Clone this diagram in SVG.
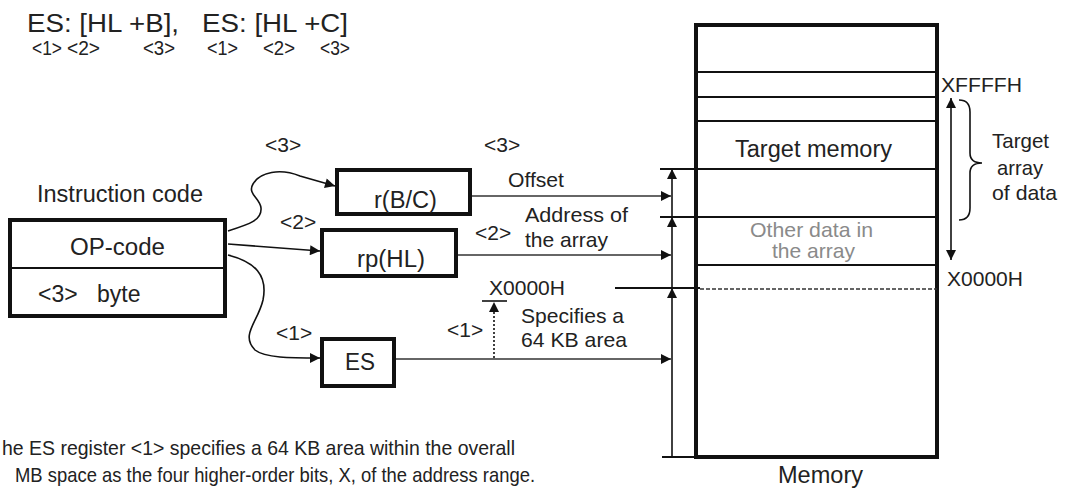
<svg xmlns="http://www.w3.org/2000/svg" width="1065" height="494" viewBox="0 0 1065 494">
<style>
text{font-family:"Liberation Sans",Arial,sans-serif;fill:#222;}
.t{font-size:23px;}
.s{font-size:21px;}
.k{font-size:20px;}
.g{fill:#8a8a8a;font-size:21px;}
.box{fill:#fff;stroke:#111;stroke-width:4;}
.ln{stroke:#111;stroke-width:1.6;fill:none;}
.hl{stroke:#333;stroke-width:1.6;fill:none;}
</style>
<defs>
<marker id="ah" viewBox="0 0 10 10" refX="10" refY="5" markerWidth="11" markerHeight="10" markerUnits="userSpaceOnUse" orient="auto">
<path d="M0,0 L10,5 L0,10 Z" fill="#111"/>
</marker>
<marker id="ahs" viewBox="0 0 10 10" refX="0" refY="5" markerWidth="11" markerHeight="10" markerUnits="userSpaceOnUse" orient="auto">
<path d="M10,0 L0,5 L10,10 Z" fill="#111"/>
</marker>
</defs>
<rect width="1065" height="494" fill="#fff"/>

<g id="title">
<text x="27" y="32" style="font-size:26px" textLength="321" lengthAdjust="spacingAndGlyphs" xml:space="preserve">ES: [HL +B],   ES: [HL +C]</text>
<text class="k" x="32" y="55" textLength="30" lengthAdjust="spacingAndGlyphs">&lt;1&gt;</text>
<text class="k" x="67" y="55" textLength="33" lengthAdjust="spacingAndGlyphs">&lt;2&gt;</text>
<text class="k" x="143" y="55" textLength="32" lengthAdjust="spacingAndGlyphs">&lt;3&gt;</text>
<text class="k" x="207" y="55" textLength="31" lengthAdjust="spacingAndGlyphs">&lt;1&gt;</text>
<text class="k" x="263" y="55" textLength="32" lengthAdjust="spacingAndGlyphs">&lt;2&gt;</text>
<text class="k" x="320" y="55" textLength="30" lengthAdjust="spacingAndGlyphs">&lt;3&gt;</text>
</g>

<g id="instruction-code">
<text class="t" x="37" y="202" textLength="166" lengthAdjust="spacingAndGlyphs">Instruction code</text>
<rect class="box" x="10" y="220" width="215" height="96"/>
<line x1="10" y1="268" x2="225" y2="268" stroke="#111" stroke-width="2"/>
<text class="t" x="70" y="255" textLength="95" lengthAdjust="spacingAndGlyphs">OP-code</text>
<text class="t" y="302"><tspan x="38">&lt;3&gt;</tspan><tspan x="97">byte</tspan></text>
</g>

<g id="reg-bc">
<rect class="box" x="337" y="170" width="133" height="44"/>
<text class="t" x="374" y="208" textLength="63" lengthAdjust="spacingAndGlyphs">r(B/C)</text>
</g>

<g id="reg-hl">
<rect class="box" x="322" y="230" width="134" height="46"/>
<text class="t" x="357" y="267" textLength="68" lengthAdjust="spacingAndGlyphs">rp(HL)</text>
</g>

<g id="reg-es">
<rect class="box" x="322" y="339" width="72" height="47"/>
<text class="t" x="345" y="370" textLength="30" lengthAdjust="spacingAndGlyphs">ES</text>
</g>

<g id="memory">
<rect class="box" x="696" y="25" width="241" height="432"/>
<g stroke="#111" stroke-width="1.8">
<line x1="696" y1="72" x2="937" y2="72"/>
<line x1="696" y1="97" x2="937" y2="97"/>
<line x1="696" y1="121" x2="937" y2="121"/>
<line x1="660" y1="169" x2="937" y2="169"/>
<line x1="660" y1="217" x2="937" y2="217"/>
<line x1="696" y1="265" x2="937" y2="265"/>
<line x1="615" y1="288" x2="700" y2="288"/>
<line x1="662" y1="457" x2="700" y2="457"/>
</g>
<line x1="700" y1="289" x2="937" y2="289" stroke="#333" stroke-width="1.6" stroke-dasharray="4,2"/>
<text class="t" x="735" y="157" textLength="157" lengthAdjust="spacingAndGlyphs">Target memory</text>
<text class="g" x="750" y="237" textLength="123" lengthAdjust="spacingAndGlyphs">Other data in</text>
<text class="g" x="772" y="258" textLength="83" lengthAdjust="spacingAndGlyphs">the array</text>
<text class="s" x="941" y="92" textLength="81" lengthAdjust="spacingAndGlyphs">XFFFFH</text>
<text class="s" x="947" y="286" textLength="76" lengthAdjust="spacingAndGlyphs">X0000H</text>
<text class="t" x="778" y="483" textLength="85" lengthAdjust="spacingAndGlyphs">Memory</text>
</g>

<g id="target-array">
<path class="ln" d="M959,100 Q970,100 970,112 L970,153 Q970,163 982,163 Q970,163 970,173 L970,208 Q970,220 959,220"/>
<text class="s" x="992" y="148" textLength="57" lengthAdjust="spacingAndGlyphs">Target</text>
<text class="s" x="997" y="175" textLength="46" lengthAdjust="spacingAndGlyphs">array</text>
<text class="s" x="992" y="200" textLength="65" lengthAdjust="spacingAndGlyphs">of data</text>
</g>

<g id="connectors">
<path class="ln" d="M228,231 C250,224 262,220 261,208 C260,198 247,194 253,184 C260,172 280,168 300,176 L335,186" marker-end="url(#ah)"/>
<line class="ln" x1="228" y1="244" x2="320" y2="251" marker-end="url(#ah)"/>
<path class="ln" d="M228,255 C255,262 268,275 263,300 C258,322 240,335 255,350 C265,358 290,358 320,358" marker-end="url(#ah)"/>
<line class="hl" x1="472" y1="196" x2="671" y2="196" marker-end="url(#ah)"/>
<line class="hl" x1="458" y1="255" x2="671" y2="255" marker-end="url(#ah)"/>
<line class="hl" x1="396" y1="359" x2="671" y2="359" marker-end="url(#ah)"/>
<line class="ln" x1="672" y1="217" x2="672" y2="169" marker-end="url(#ah)"/>
<line class="ln" x1="672" y1="288" x2="672" y2="217" marker-end="url(#ah)"/>
<line class="ln" x1="672" y1="457" x2="672" y2="288" marker-end="url(#ah)"/>
<line x1="494" y1="358" x2="494" y2="302" stroke="#111" stroke-width="1.6" stroke-dasharray="2,2" marker-end="url(#ah)"/>
<line class="ln" x1="482" y1="301" x2="507" y2="301"/>
<line class="ln" x1="951" y1="98" x2="951" y2="260" marker-start="url(#ahs)" marker-end="url(#ah)"/>
</g>

<g id="labels">
<text class="s" x="265" y="152">&lt;3&gt;</text>
<text class="s" x="280" y="229">&lt;2&gt;</text>
<text class="s" x="276" y="340">&lt;1&gt;</text>
<text class="s" x="484" y="152">&lt;3&gt;</text>
<text class="s" x="508" y="187" textLength="56" lengthAdjust="spacingAndGlyphs">Offset</text>
<text class="s" x="525" y="222" textLength="103" lengthAdjust="spacingAndGlyphs">Address of</text>
<text class="s" x="525" y="247" textLength="83" lengthAdjust="spacingAndGlyphs">the array</text>
<text class="s" x="475" y="240">&lt;2&gt;</text>
<text class="s" x="489" y="295" textLength="76" lengthAdjust="spacingAndGlyphs">X0000H</text>
<text class="s" x="447" y="337">&lt;1&gt;</text>
<text class="s" x="521" y="323" textLength="103" lengthAdjust="spacingAndGlyphs">Specifies a</text>
<text class="s" x="521" y="347" textLength="106" lengthAdjust="spacingAndGlyphs">64 KB area</text>
</g>

<g id="note">
<text class="s" x="2" y="455" textLength="513" lengthAdjust="spacingAndGlyphs">he ES register &lt;1&gt; specifies a 64 KB area within the overall</text>
<text class="s" x="15" y="482" textLength="520" lengthAdjust="spacingAndGlyphs">MB space as the four higher-order bits, X, of the address range.</text>
</g>
</svg>
